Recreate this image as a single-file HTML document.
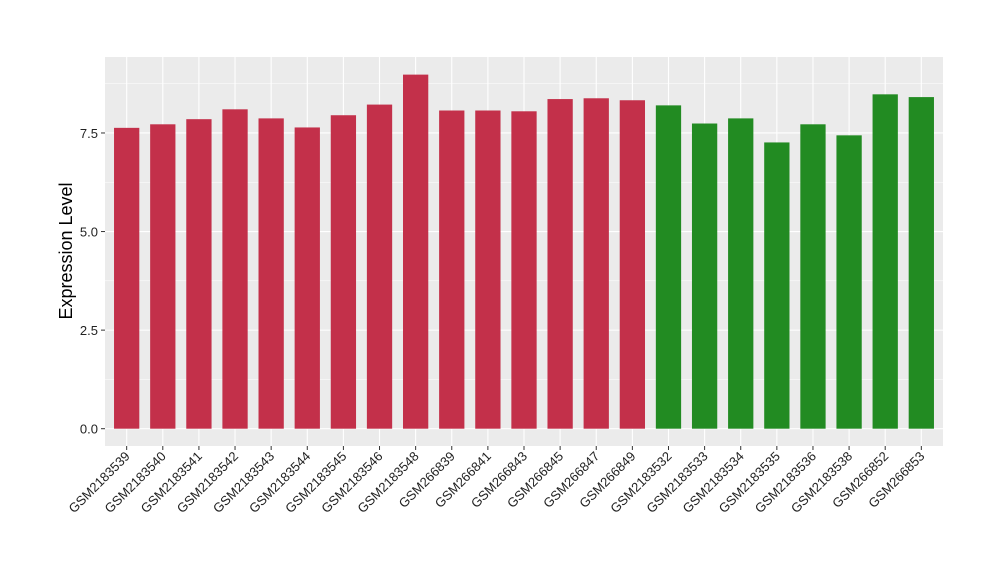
<!DOCTYPE html>
<html><head><meta charset="utf-8"><style>
body{margin:0;background:#fff;font-family:"Liberation Sans",sans-serif;}
</style></head><body>
<svg id="chart" width="1000" height="580" xmlns="http://www.w3.org/2000/svg" font-family="Liberation Sans, sans-serif">
<rect x="105" y="57" width="838" height="389" fill="#ebebeb"/>
<g id="grid"></g><g id="bars"></g><g id="axes"></g>
<text transform="translate(72,251) rotate(-90)" text-anchor="middle" font-size="18" fill="#000">Expression Level</text>
</svg>
<script>
const categories=["GSM2183539","GSM2183540","GSM2183541","GSM2183542","GSM2183543","GSM2183544","GSM2183545","GSM2183546","GSM2183548","GSM266839","GSM266841","GSM266843","GSM266845","GSM266847","GSM266849","GSM2183532","GSM2183533","GSM2183534","GSM2183535","GSM2183536","GSM2183538","GSM266852","GSM266853"];
const values=[7.63,7.72,7.85,8.10,7.87,7.64,7.95,8.22,8.98,8.07,8.07,8.05,8.36,8.38,8.33,8.20,7.74,7.87,7.26,7.72,7.44,8.48,8.41];
const groups=["a","a","a","a","a","a","a","a","a","a","a","a","a","a","a","b","b","b","b","b","b","b","b"];
const yTicks=[0,2.5,5,7.5];
const yTickLabels=["0.0","2.5","5.0","7.5"];
const colors={a:"#c3304a",b:"#228b22"};
const NS="http://www.w3.org/2000/svg";
const x0=105,x1=943,y0Pix=428.7,ppu=39.43;
const step=(x1-x0)/(categories.length+0.2);
function xs(i){return x0+step*(i+0.6);}
function ys(v){return y0Pix-v*ppu;}
function mk(tag,attrs,parent){const e=document.createElementNS(NS,tag);for(const k in attrs)e.setAttribute(k,attrs[k]);parent.appendChild(e);return e;}
const grid=document.getElementById('grid'),bars=document.getElementById('bars'),axes=document.getElementById('axes');
for(let k=0;k<yTicks.length;k++){
 const y=ys(yTicks[k]);
 const g=mk('line',{x1:x0,x2:x1,y1:y,y2:y,stroke:'#fff','stroke-width':1.1},grid);
 
 
 if(k<yTicks.length-1){const ym=ys((yTicks[k]+yTicks[k+1])/2);
  const m=mk('line',{x1:x0,x2:x1,y1:ym,y2:ym,stroke:'#fff','stroke-width':0.5},grid);
  
  }
 const t=mk('line',{x1:x0-4,x2:x0,y1:y,y2:y,stroke:'#333','stroke-width':1},axes);
 
 
 const l=mk('text',{x:x0-7,y:y+5,'text-anchor':'end','font-size':13,fill:'#222'},axes);
 l.textContent=yTickLabels[k];
 
 
}
{const ym=ys(yTicks[yTicks.length-1]+1.25);
 const m=mk('line',{x1:x0,x2:x1,y1:ym,y2:ym,stroke:'#fff','stroke-width':0.5},grid);
 
 }
const bw=step*0.7;
categories.forEach((c,i)=>{
 const cx=xs(i);
 const g=mk('line',{x1:cx,x2:cx,y1:57,y2:446,stroke:'#fff','stroke-width':1.1},grid);
 
 
 const r=mk('rect',{x:cx-bw/2,y:ys(values[i]),width:bw,height:ys(0)-ys(values[i]),fill:colors[groups[i]]},bars);
 
 
 const t=mk('line',{x1:cx,x2:cx,y1:446,y2:450,stroke:'#333','stroke-width':1},axes);
 
 
 const l=mk('text',{transform:`translate(${cx+4},${457}) rotate(-45)`,'text-anchor':'end','font-size':13,fill:'#222'},axes);
 l.textContent=c;
 
 
});
</script>
</body></html>
